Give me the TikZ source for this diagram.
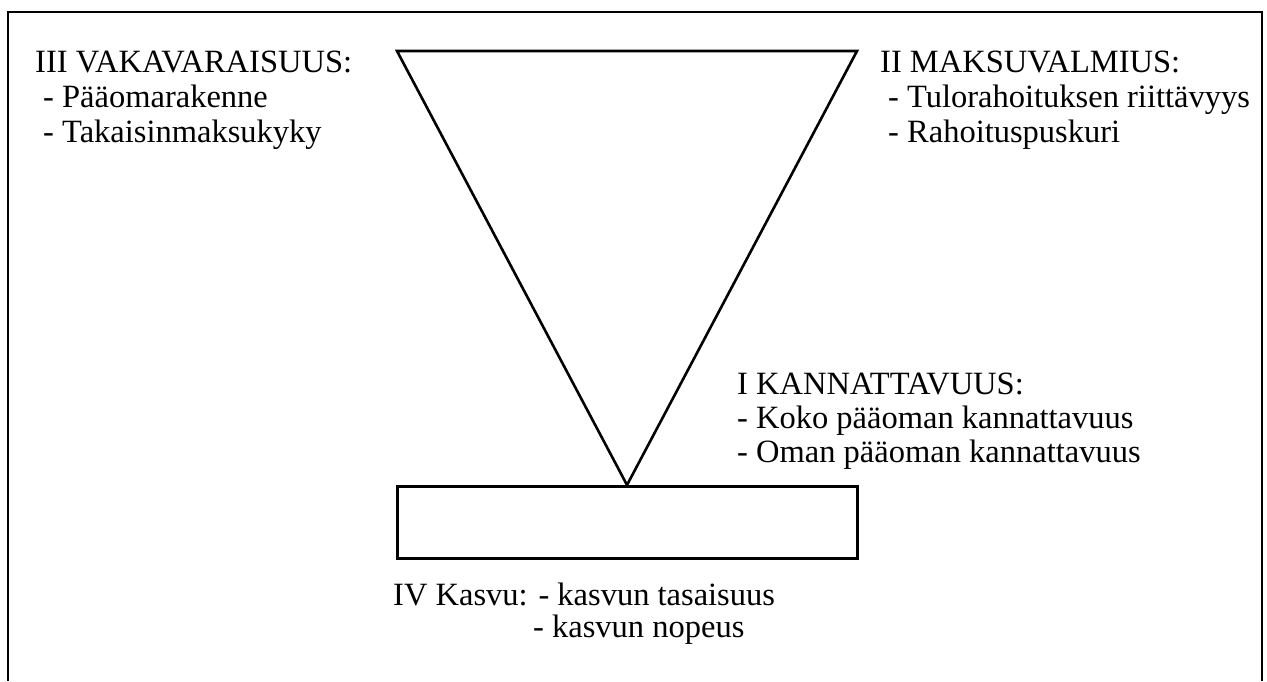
\documentclass[tikz,border=0pt]{standalone}
\usepackage{fontspec}
\setmainfont{Liberation Serif}
\begin{document}
\begin{tikzpicture}[x=1pt,y=-1pt,
  lbl/.style={anchor=base west,inner sep=0pt,font=\fontsize{32.5}{35}\selectfont},
  edge/.style={line width=2.6pt,line join=miter}]
\useasboundingbox (0,0) rectangle (1267,681);
% outer frame (open at bottom)
\draw[edge] (8,681) -- (8,12) -- (1262,12) -- (1262,681);
% triangle
\coordinate (tl) at (397,51);
\coordinate (tr) at (857,51);
\coordinate (ap) at (627,485);
\draw[edge] (tl) -- (tr) -- (ap) -- cycle;
% rectangle
\node[draw,line width=2.6pt,inner sep=0pt,minimum width=460pt,minimum height=72pt,anchor=north west] (box) at (396,485) {};
% III
\node[lbl] (t3a) at (35,72) {III VAKAVARAISUUS:};
\node[lbl] (t3b) at (43,107) {- Pääomarakenne};
\node[lbl] (t3c) at (43,142) {- Takaisinmaksukyky};
% II
\node[lbl] (t2a) at (880,72) {II MAKSUVALMIUS:};
\node[lbl] (t2b) at (888,107) {- Tulorahoituksen riittävyys};
\node[lbl] (t2c) at (888,142) {- Rahoituspuskuri};
% I
\node[lbl] (t1a) at (737,394) {I KANNATTAVUUS:};
\node[lbl] (t1b) at (737,428) {- Koko pääoman kannattavuus};
\node[lbl] (t1c) at (737,462) {- Oman pääoman kannattavuus};
% IV
\node[lbl] (t4a) at (393,605) {IV Kasvu: - kasvun tasaisuus};
\node[lbl] (t4b) at (533,637) {- kasvun nopeus};
\end{tikzpicture}
\end{document}
